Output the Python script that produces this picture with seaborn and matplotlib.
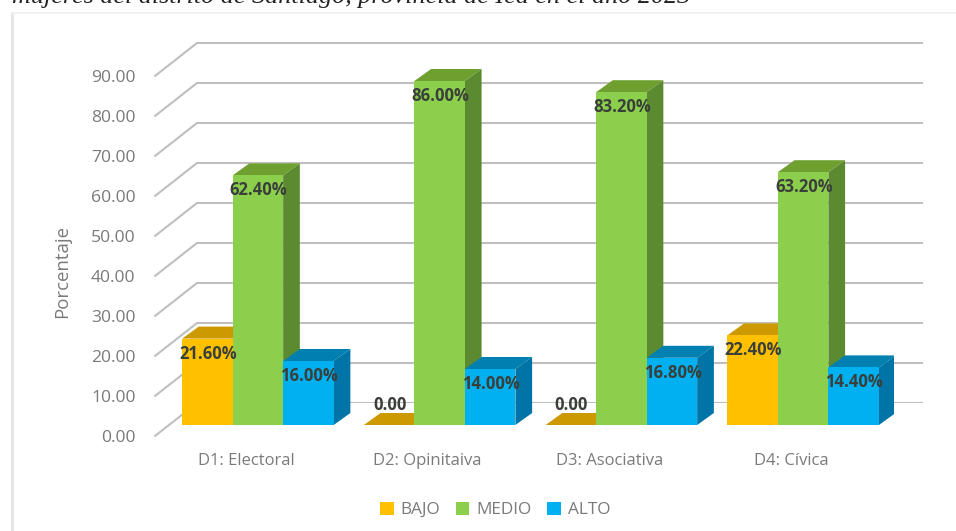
import matplotlib
matplotlib.use("Agg")
import matplotlib.pyplot as plt
from matplotlib.lines import Line2D
from matplotlib.patches import Patch, Polygon
import pandas as pd
import seaborn as sns

categories = ["D1: Electoral", "D2: Opinitaiva", "D3: Asociativa", "D4: Cívica"]
levels = ["BAJO", "MEDIO", "ALTO"]
bajo = [21.60, 0.00, 0.00, 22.40]
medio = [62.40, 86.00, 83.20, 63.20]
alto = [16.00, 14.00, 16.80, 14.40]
y_ticks = [0, 10, 20, 30, 40, 50, 60, 70, 80, 90]
title_text = "mujeres del distrito de Santiago, provincia de Ica en el año 2023"

front_colors = ["#FFC000", "#8CCF4D", "#00B0F0"]
top_colors = ["#CC9A00", "#6FA02F", "#0080B0"]
side_colors = ["#BF9000", "#5C8A30", "#0074A6"]
GRID = "#BFBFBF"
TEXT = "#7A7A7A"
LABEL = "#3A3F3A"
FONT = "Open Sans"

W, H = 956, 531
sns.set_theme(style="white")
plt.rcParams["font.family"] = [FONT, "DejaVu Sans"]

df = pd.DataFrame({"cat": categories, "BAJO": bajo, "MEDIO": medio, "ALTO": alto})
long = df.melt(id_vars="cat", value_vars=levels, var_name="nivel", value_name="pct")

fig = plt.figure(figsize=(W / 100, H / 100), dpi=100, facecolor="white")


def px_axes(left, right, top, bottom, z):
    a = fig.add_axes([left / W, 1 - bottom / H, (right - left) / W, (bottom - top) / H], zorder=z)
    a.patch.set_alpha(0)
    sns.despine(ax=a, left=True, bottom=True, right=True, top=True)
    return a


# back wall with gridlines and side wall lines
back = px_axes(197, 923, 3, 403, 1)
back.set_xlim(0, 726)
back.set_ylim(0, 100)
back.set_xticks([])
back.set_yticks(y_ticks)
back.set_yticklabels([])
back.tick_params(length=0)
back.yaxis.grid(True, color=GRID, lw=1.5)
for v in y_ticks:
    back.plot([-42, 0], [v - 8.25, v], color=GRID, lw=1.5, clip_on=False, solid_capstyle="round")

# front plane: value axis and category labels
front = px_axes(155, 882, 36, 436, 2)
front.set_xlim(-0.5, 3.5)
front.set_ylim(0, 100)
front.set_yticks(y_ticks)
front.set_yticklabels([f"{v:.2f}" for v in y_ticks], fontsize=12.6, color=TEXT)
front.set_xticks(range(len(categories)))
front.set_xticklabels(categories, fontsize=12, color=TEXT)
front.tick_params(axis="y", length=0, pad=14)
front.tick_params(axis="x", length=0, pad=12)
front.set_ylabel("Porcentaje", fontsize=13.4, color=TEXT)
front.yaxis.set_label_coords((71 - 155) / 727, 0.4125)

# bars
ax = px_axes(167, 894, 25, 425, 3)
sns.barplot(data=long, x="cat", y="pct", hue="nivel", hue_order=levels, order=categories,
            palette=front_colors, width=0.834, saturation=1, legend=False, ax=ax,
            errorbar=None, linewidth=0)
ax.set_xlim(-0.5, 3.5)
ax.set_ylim(0, 100)
ax.set_xlabel("")
ax.set_ylabel("")
ax.set_xticks([])
ax.set_yticks([])

DX = 16.7 / 181.7
DY = 12 / 4
for i, container in enumerate(ax.containers):
    for bar in container.patches:
        x, w, h = bar.get_x(), bar.get_width(), bar.get_height()
        bar.set_zorder(3 + 2 * i)
        ax.add_patch(Polygon([(x, h), (x + w, h), (x + w + DX, h + DY), (x + DX, h + DY)],
                             closed=True, fc=top_colors[i], ec="none", zorder=2 + 2 * i))
        if h > 0:
            ax.add_patch(Polygon([(x + w, 0), (x + w + DX, DY), (x + w + DX, h + DY), (x + w, h)],
                                 closed=True, fc=side_colors[i], ec="none", zorder=2 + 2 * i))
        label = f"{h:.2f}%" if h > 0 else f"{h:.2f}"
        off = -15 if h > 0 else 20
        ax.annotate(label, (x + w / 2, h), xytext=(0.5, off * 0.72), textcoords="offset points",
                    ha="center", va="center", fontsize=12, fontweight="bold", color=LABEL,
                    zorder=20, annotation_clip=False)

# legend
handles = [Patch(fc=c, ec="none") for c in front_colors]
fig.legend(handles, levels, loc="center", bbox_to_anchor=(495 / W, 1 - 510 / H), ncol=3, frameon=False,
           fontsize=12.4, labelcolor=TEXT, handlelength=0.8, handleheight=0.8, handletextpad=0.4,
           columnspacing=0.9)

# chart frame and cropped caption
fig.add_artist(Line2D([12 / W, 12 / W], [0, 1 - 13 / H], color="#E6E6E6", lw=2.2))
fig.add_artist(Line2D([12 / W, 1], [1 - 13 / H, 1 - 13 / H], color="#EFEFEF", lw=1.2))
fig.text(12 / W, 1 - 3 / H, title_text, family="Liberation Serif", style="italic", fontsize=18.8,
         color="#222222", va="baseline", ha="left")

fig.savefig("out.png", dpi=100)
